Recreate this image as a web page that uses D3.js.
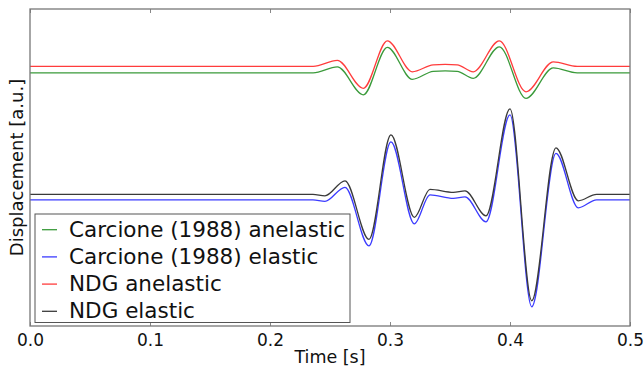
<!DOCTYPE html>
<html>
<head>
<meta charset="utf-8">
<script src="https://cdn.jsdelivr.net/npm/d3@7"></script>
<style>
  html, body { margin: 0; padding: 0; background: #fff; }
  svg { display: block; font-family: "DejaVu Sans", sans-serif; }
</style>
</head>
<body>
<svg id="chart" width="644" height="368"></svg>
<script>
// ---- data ----
const xTicks = [0.0, 0.1, 0.2, 0.3, 0.4, 0.5];
const xDomain = [0, 0.5];
const yDomain = [-2.634, 3.706];

const tElastic = [0, 0.2358, 0.2458, 0.2625, 0.2825, 0.3008, 0.3203, 0.3333, 0.3528, 0.3625, 0.38, 0.4, 0.4181, 0.4383, 0.4569, 0.4722, 0.5];
const ndgElastic = [0, 0, -0.03, 0.27, -0.9, 1.19, -0.46, 0.1, 0.04, 0.07, -0.43, 1.71, -2.13, 0.93, -0.13, 0, 0];
const carcioneElastic = [-0.11, -0.11, -0.14, 0.14, -1.03, 1.05, -0.59, -0.01, -0.08, -0.05, -0.55, 1.59, -2.25, 0.82, -0.27, -0.11, -0.11];

const tAnelastic = [0, 0.236, 0.2561, 0.2778, 0.2978, 0.3186, 0.336, 0.346, 0.356, 0.3694, 0.3911, 0.4133, 0.4361, 0.456, 0.5];
const ndgAnelastic = [2.56, 2.56, 2.68, 2.12, 3.07, 2.45, 2.59, 2.60, 2.59, 2.45, 3.07, 2.05, 2.65, 2.56, 2.56];
const carcioneAnelastic = [2.43, 2.43, 2.55, 1.99, 2.94, 2.30, 2.46, 2.47, 2.46, 2.32, 2.95, 1.92, 2.53, 2.43, 2.43];

const seriesNames = ["Carcione (1988) anelastic", "Carcione (1988) elastic", "NDG anelastic", "NDG elastic"];

// ---- layout ----
const W = 644, H = 368;
const m = { left: 30, right: 14, top: 9, bottom: 42 };
const pw = W - m.left - m.right, ph = H - m.top - m.bottom;

const svg = d3.select("#chart");
const g = svg.append("g").attr("transform", `translate(${m.left},${m.top})`);

const x = d3.scaleLinear().domain(xDomain).range([0, pw]);
const y = d3.scaleLinear().domain(yDomain).range([ph, 0]);

const series = [
  { name: seriesNames[0], t: tAnelastic, v: carcioneAnelastic, color: "#3a9a3a" },
  { name: seriesNames[1], t: tElastic, v: carcioneElastic, color: "#3b3bff" },
  { name: seriesNames[2], t: tAnelastic, v: ndgAnelastic, color: "#ff3c3c" },
  { name: seriesNames[3], t: tElastic, v: ndgElastic, color: "#3a3a3a" }
];

const line = d3.line()
  .x(d => x(d[0]))
  .y(d => y(d[1]))
  .curve(d3.curveMonotoneX);

g.append("defs").append("clipPath").attr("id", "clip")
  .append("rect").attr("width", pw).attr("height", ph);

const lines = g.append("g").attr("clip-path", "url(#clip)");
series.forEach(s => {
  lines.append("path")
    .datum(s.t.map((t, i) => [t, s.v[i]]))
    .attr("fill", "none")
    .attr("stroke", s.color)
    .attr("stroke-width", 1.3)
    .attr("d", line);
});

// axes (ticks inside, top and bottom)
const xAxisB = d3.axisBottom(x).tickValues(xTicks).tickFormat(d3.format(".1f")).tickSizeInner(-4).tickSizeOuter(0).tickPadding(10);
const gxb = g.append("g").attr("transform", `translate(0,${ph})`).call(xAxisB);
gxb.select(".domain").remove();
gxb.selectAll(".tick line").attr("stroke", "#888");
gxb.selectAll(".tick text")
  .attr("font-size", "17px")
  .attr("fill", "#111")
  .attr("font-family", "DejaVu Sans, sans-serif")
  .attr("dy", null)
  .attr("y", 19.5);

const xAxisT = d3.axisTop(x).tickValues(xTicks).tickFormat("").tickSizeInner(-4).tickSizeOuter(0);
const gxt = g.append("g").call(xAxisT);
gxt.select(".domain").remove();
gxt.selectAll(".tick line").attr("stroke", "#888");

// frame
g.append("rect")
  .attr("x", 0).attr("y", 0).attr("width", pw).attr("height", ph)
  .attr("fill", "none").attr("stroke", "#777").attr("stroke-width", 1.3);

// axis labels
svg.append("text")
  .attr("x", m.left + pw / 2).attr("y", 363)
  .attr("text-anchor", "middle")
  .attr("font-size", "17.5px").attr("fill", "#111")
  .text("Time [s]");

svg.append("text")
  .attr("transform", `translate(23,${m.top + ph / 2}) rotate(-90)`)
  .attr("text-anchor", "middle")
  .attr("font-size", "18px").attr("fill", "#111")
  .text("Displacement [a.u.]");

// legend
const lg = svg.append("g");
lg.append("rect")
  .attr("x", 35).attr("y", 214).attr("width", 315).attr("height", 108.5)
  .attr("fill", "#fff").attr("stroke", "#555").attr("stroke-width", 1);
series.forEach((s, i) => {
  const base = 236.7 + i * 27.2;
  lg.append("line")
    .attr("x1", 42).attr("x2", 57)
    .attr("y1", base - 7).attr("y2", base - 7)
    .attr("stroke", s.color).attr("stroke-width", 1.3);
  lg.append("text")
    .attr("x", 69).attr("y", base)
    .attr("font-size", "21.5px").attr("fill", "#111")
    .text(s.name);
});
</script>
</body>
</html>
